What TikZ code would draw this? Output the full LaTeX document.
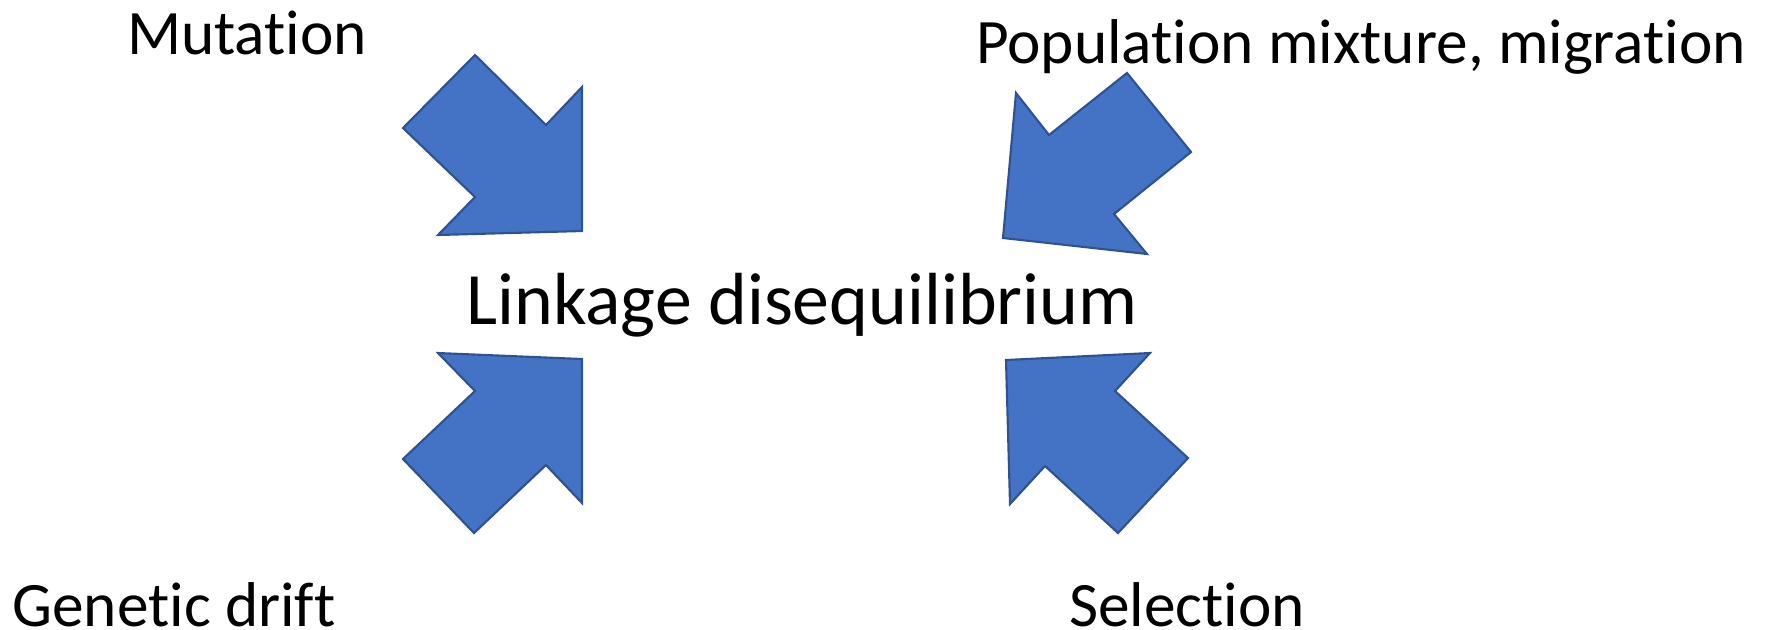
\documentclass[tikz,border=0pt]{standalone}
\usepackage{fontspec}
\setmainfont{Carlito}[Ligatures=CommonOff]
\definecolor{arrowfill}{HTML}{4472C4}
\definecolor{arrowline}{HTML}{2F528F}
\tikzset{
    blockarrow/.style={fill=arrowfill, draw=arrowline, line width=.6pt, line join=miter},
    factor/.style={font=\fontsize{18}{20}\selectfont, inner sep=0pt},
}
\begin{document}
\begin{tikzpicture}[x=.01cm, y=-.01cm]
            \useasboundingbox (0,0) rectangle (1772,629);
            \draw[blockarrow] (475,55) -- (403,128) -- (475,197) -- (438,235) -- (582,231) -- (582,87) -- (546,125) -- cycle;
            \draw[blockarrow] (1127,73) -- (1191,152) -- (1114,214) -- (1147,254) -- (1003,238) -- (1016,93) -- (1049,135) -- cycle;
            \draw[blockarrow] (438,353) -- (582,359) -- (582,503) -- (546,465) -- (474,533) -- (403,459) -- (475,391) -- cycle;
            \draw[blockarrow] (1006,360) -- (1150,353) -- (1115,391) -- (1188,458) -- (1118,533) -- (1045,466) -- (1010,504) -- cycle;
            \node[font=\fontsize{21}{24}\selectfont, inner sep=0pt] (ld) at (802,305) {Linkage disequilibrium};
            \node[factor] (mut) at (247,33) {Mutation};
            \node[factor] (mix) at (1361,47) {Population mixture, migration};
            \node[factor] (drift) at (174,605) {Genetic drift};
            \node[factor] (sel) at (1187,605) {Selection};
        \end{tikzpicture}
\end{document}
